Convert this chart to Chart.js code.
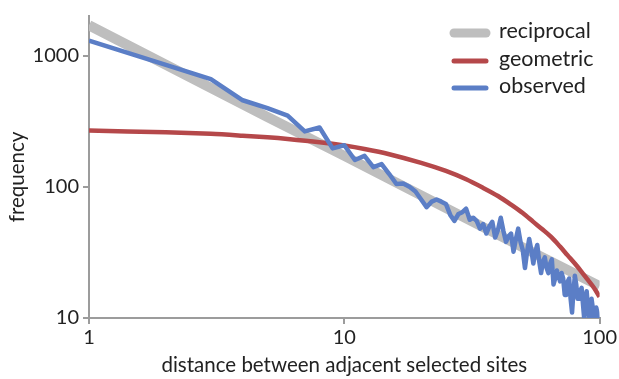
<!DOCTYPE html>
<html>
<head>
<meta charset="utf-8">
<script src="https://cdn.jsdelivr.net/npm/chart.js@4.4.0/dist/chart.umd.min.js"></script>
<style>
html, body { margin: 0; padding: 0; background: #fff; }
#wrap { width: 619px; height: 379px; }
</style>
</head>
<body>
<div id="wrap"><canvas id="grafico"></canvas></div>
<script>
var fonte = 'Lato, "Open Sans", sans-serif'
var xTicks = [1, 10, 100]
var yTicks = [10, 100, 1000]

// reciprocal (straight line on log-log)
var recDist = [1, 2, 5, 10, 20, 50, 100]
var recFreq = [1700, 850, 340, 172, 86, 34.5, 17.5]

// geometric
var geoDist = [1, 2, 3, 4, 5, 6, 8, 10, 12, 15, 20, 25, 30, 35, 40, 45, 50, 55, 60, 65, 70, 75, 80, 85, 90, 95, 100]
var geoFreq = [268, 260, 253, 245, 238, 231, 218, 206, 194, 177, 152, 132, 114, 98, 85, 73, 63, 54, 47, 41, 35, 30, 26, 22.5, 19.5, 17, 14.5]

// observed
var obsDist = [1, 2, 3, 4, 5, 6, 7, 8, 9, 10,
  11, 12, 13, 14, 15, 16, 17, 18, 19, 20,
  21, 22, 23, 24, 25, 26, 27, 28, 29, 30,
  31, 32, 33, 34, 35, 36, 37, 38, 39, 40,
  41, 42, 43, 44, 45, 46, 47, 48, 49, 50,
  51, 52, 53, 54, 55, 56, 57, 58, 59, 60,
  61, 62, 63, 64, 65, 66, 67, 68, 69, 70,
  71, 72, 73, 74, 75, 76, 77, 78, 79, 80,
  81, 82, 83, 84, 85, 86, 87, 88, 89, 90,
  91, 92, 93, 94, 95, 96, 97, 98, 99, 100]
var obsFreq = [1300, 850, 660, 456, 397, 348, 264, 283, 196, 207,
  160, 172, 141, 149, 125, 105, 106, 100, 92, 80,
  70, 77, 80, 77, 74, 61, 55, 62, 64, 68,
  56, 58, 55, 48, 52, 44, 50, 54, 41, 47,
  58, 46, 38, 42, 44, 32, 40, 48, 38, 33,
  24, 32, 40, 33, 26, 32, 36, 27, 22, 27,
  29, 24, 22, 26, 28, 18, 20, 23, 21, 19,
  22, 20, 15, 15, 19, 20, 14, 11, 16, 21,
  18, 14, 14, 16, 17, 13, 10, 14, 16, 12,
  10, 12, 14, 12, 9, 10, 12, 11, 9, 10]

function pares(xs, ys) {
  return xs.map(function (x, i) { return { x: x, y: ys[i] } })
}

// legenda e titulo do eixo y desenhados a mao
var legenda = {
  id: 'legenda',
  afterDraw: function (chart) {
    var ctx = chart.ctx
    var linhas = [33, 61, 88]
    var larguras = [9, 5, 5]
    var ordem = [2, 1, 0]
    ctx.save()
    ctx.font = '21.5px ' + fonte
    ctx.textBaseline = 'middle'
    ordem.forEach(function (idx, i) {
      var ds = chart.data.datasets[idx]
      ctx.strokeStyle = ds.borderColor
      ctx.lineWidth = larguras[i]
      ctx.lineCap = 'round'
      ctx.beginPath()
      ctx.moveTo(454, linhas[i])
      ctx.lineTo(486, linhas[i])
      ctx.stroke()
      ctx.fillStyle = '#222'
      ctx.fillText(ds.label, 499, linhas[i] - 2)
    })
    // "frequency" um pouco abaixo do centro, como no original
    ctx.font = '20.5px ' + fonte
    ctx.textAlign = 'center'
    ctx.translate(17, 177)
    ctx.rotate(-Math.PI / 2)
    ctx.fillText('frequency', 0, 0)
    ctx.restore()
  }
}

var eixo = '#9c9c9c'

var config = {
  type: 'line',
  data: {
    datasets: [
      { label: 'observed', data: pares(obsDist, obsFreq), borderColor: '#5b7ec6', borderWidth: 4.5, pointRadius: 0, tension: 0, order: 0, borderJoinStyle: 'round' },
      { label: 'geometric', data: pares(geoDist, geoFreq), borderColor: '#b5484a', borderWidth: 4.5, pointRadius: 0, tension: 0.3, order: 1 },
      { label: 'reciprocal', data: pares(recDist, recFreq), borderColor: '#bebebe', borderWidth: 10, pointRadius: 0, tension: 0, order: 2 }
    ]
  },
  options: {
    responsive: true,
    maintainAspectRatio: false,
    animation: false,
    layout: { padding: { top: 13, right: 18, left: 0, bottom: 0 } },
    plugins: { legend: { display: false }, tooltip: { enabled: false } },
    scales: {
      x: {
        type: 'logarithmic',
        min: 1,
        max: 100,
        afterBuildTicks: function (s) { s.ticks = xTicks.map(function (v) { return { value: v } }) },
        afterFit: function (s) { s.height = 61 },
        ticks: { callback: function (v) { return String(v) }, font: { family: fonte, size: 20 }, color: '#222', padding: 2, maxRotation: 0, autoSkip: false },
        grid: { drawOnChartArea: false, tickLength: 6, color: eixo, lineWidth: 2 },
        border: { color: eixo, width: 2 },
        title: { display: true, text: 'distance between adjacent selected sites', font: { family: fonte, size: 20.5 }, color: '#222', padding: { top: 0, bottom: 1 } }
      },
      y: {
        type: 'logarithmic',
        min: 10,
        max: 2000,
        afterBuildTicks: function (s) { s.ticks = yTicks.map(function (v) { return { value: v } }) },
        afterFit: function (s) { s.width = 89 },
        ticks: { callback: function (v) { return String(v) }, font: { family: fonte, size: 20 }, color: '#222', padding: 4, autoSkip: false },
        grid: { drawOnChartArea: false, tickLength: 6, color: eixo, lineWidth: 2 },
        border: { color: eixo, width: 2 },
        title: { display: false }
      }
    }
  },
  plugins: [legenda]
}

var grafico = new Chart(document.getElementById('grafico').getContext('2d'), config)
</script>
</body>
</html>
